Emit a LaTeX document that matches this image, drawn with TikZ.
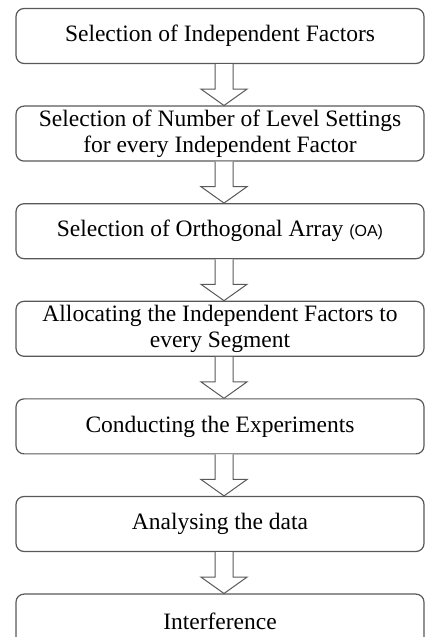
\documentclass[tikz,border=0pt]{standalone}
\usepackage{fontspec}
\setmainfont{Liberation Serif}
\newfontfamily\oafont{Liberation Sans}
\usetikzlibrary{calc,positioning}

\begin{document}
\begin{tikzpicture}[x=1pt,y=1pt,
  stagebox/.style={draw=black!65,line width=1.2,rounded corners=8,fill=white,
    minimum width=408pt,minimum height=55pt,align=center,inner sep=0pt,
    font=\fontsize{23.5}{26}\selectfont},
  blockarrow/.style={draw=black!65,line width=1.0,fill=white}]
\useasboundingbox (0,0) rectangle (425,637);
\clip (0,0) rectangle (425,637);
% -> stages of the design
\node[stagebox] (s1) at (220,601) {Selection of Independent Factors};
\node[stagebox,below=41.4pt of s1] (s2) {Selection of Number of Level Settings\\for every Independent Factor};
\node[stagebox,below=41.4pt of s2] (s3) {Selection of Orthogonal Array {\oafont\fontsize{16}{18}\selectfont(OA)}};
\node[stagebox,below=41.4pt of s3] (s4) {Allocating the Independent Factors to\\every Segment};
\node[stagebox,below=41.4pt of s4] (s5) {Conducting the Experiments};
\node[stagebox,below=41.4pt of s5] (s6) {Analysing the data};
\node[stagebox,below=41.4pt of s6] (s7) {Interference};
% -> hollow arrows between the stages
\foreach \a/\b in {s1/s2,s2/s3,s3/s4,s4/s5,s5/s6,s6/s7}{
  \draw[blockarrow] ($(\a.south)+(-5,0)$) -- ++(0,-25) -- ++(-14,0) -- ($(\b.north)+(4,0)$)
    -- ($(\a.south)+(27,-25)$) -- ++(-14,0) -- ($(\a.south)+(13,0)$);
}
\end{tikzpicture}
\end{document}
